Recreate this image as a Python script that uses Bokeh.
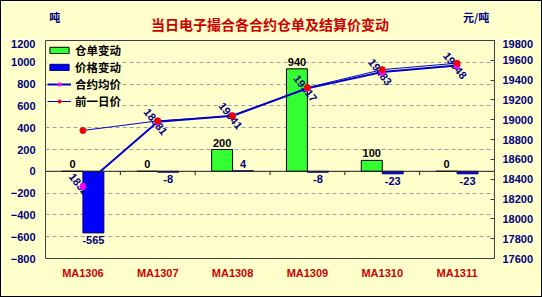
from bokeh.plotting import figure
from bokeh.layouts import column
from bokeh.models import (Range1d, LinearAxis, FixedTicker, Span, Legend,
                          LegendItem, ColumnDataSource)
from bokeh.transform import dodge
from bokeh.core.properties import value
from bokeh.embed import file_html
from bokeh.resources import INLINE

# ---- data ----
cats = ["MA1306", "MA1307", "MA1308", "MA1309", "MA1310", "MA1311"]
receipt_change = [0, 0, 200, 940, 100, 0]          # 仓单变动 (吨)
price_change = [-565, -8, 4, -8, -23, -23]         # 价格变动
avg_price = [18327, 18981, 19041, 19317, 19483, 19548]   # 合约均价
prev_price = [18892, 18989, 19037, 19325, 19506, 19571]  # 前一日价
left_ticks = [-800, -600, -400, -200, 0, 200, 400, 600, 800, 1000, 1200]
right_ticks = [17600, 17800, 18000, 18200, 18400, 18600, 18800, 19000,
               19200, 19400, 19600, 19800]
title_text = "当日电子撮合各合约仓单及结算价变动"
left_unit = "吨"
right_unit = "元/吨"

BG = "#FFFFCC"
NAVY = "#000080"
RED = "#CC0000"
CJK = "Noto Sans CJK SC"
W = 540
H = 295
HDR_H = 38

n = len(cats)
centers = [i + 0.5 for i in range(n)]

src = ColumnDataSource(dict(
    x=centers, cat=cats, rc=receipt_change, pc=price_change,
    avg=avg_price, prev=prev_price,
    rc_txt=[str(v) for v in receipt_change],
    pc_txt=[str(v) for v in price_change],
    avg_txt=[str(v) for v in avg_price],
    pc_base=["bottom" if v >= 0 else "top" for v in price_change],
    pc_off=[-3 if v >= 0 else 3 for v in price_change],
))

# ---- header strip: title and unit labels (pixel coordinate space) ----
hdr = figure(width=W, height=HDR_H, x_range=Range1d(0, W), y_range=Range1d(HDR_H, 0),
             output_backend="svg", toolbar_location=None,
             x_axis_location=None, y_axis_location=None,
             min_border=0, background_fill_color=BG, border_fill_color=BG)
hdr.outline_line_color = None
hdr.xgrid.visible = False
hdr.ygrid.visible = False
hdr.text(x=[W / 2], y=[22], text=[title_text], text_align="center",
         text_baseline="middle", text_color=RED, text_font=value(CJK),
         text_font_size="14px", text_font_style="bold")
hdr.text(x=[11, 518], y=[15, 15], text=[left_unit, right_unit], text_align="center",
         text_baseline="middle", text_color=NAVY, text_font=value(CJK),
         text_font_size="11px", text_font_style="bold")

# ---- main chart ----
p = figure(width=W, height=H - HDR_H, x_range=Range1d(0, n),
           y_range=Range1d(left_ticks[0], left_ticks[-1]),
           output_backend="svg", toolbar_location=None,
           x_axis_location=None, y_axis_location=None,
           min_border_left=44, min_border_right=47, min_border_top=1,
           min_border_bottom=38,
           background_fill_color=BG, border_fill_color=BG)
p.outline_line_color = "#404040"
p.outline_line_width = 1
p.extra_y_ranges = {"right": Range1d(right_ticks[0], right_ticks[-1])}

# axes
ly = LinearAxis(ticker=FixedTicker(ticks=left_ticks))
ly.axis_line_color = None
ly.major_tick_line_color = None
ly.major_tick_out = 0
ly.major_tick_in = 0
ly.minor_tick_line_color = None
ly.major_label_standoff = 10
p.add_layout(ly, "left")

ry = LinearAxis(y_range_name="right", ticker=FixedTicker(ticks=right_ticks))
ry.axis_line_color = None
ry.major_tick_in = 4
ry.major_tick_out = 0
ry.major_tick_line_color = "#404040"
ry.minor_tick_line_color = None
ry.major_label_standoff = 8
p.add_layout(ry, "right")

bx = LinearAxis(ticker=FixedTicker(ticks=centers),
                major_label_overrides={c: s for c, s in zip(centers, cats)})
bx.axis_line_color = None
bx.major_tick_line_color = None
bx.major_tick_out = 0
bx.major_tick_in = 0
bx.minor_tick_line_color = None
bx.major_label_standoff = 8
p.add_layout(bx, "below")

for ax in (ly, ry):
    ax.major_label_text_color = NAVY
    ax.major_label_text_font_style = "bold"
    ax.major_label_text_font_size = "11px"
    ax.major_label_text_font = "Liberation Sans"
bx.major_label_text_color = RED
bx.major_label_text_font_style = "bold"
bx.major_label_text_font_size = "11px"
bx.major_label_text_font = "Liberation Sans"

# grid
p.xgrid.visible = False
p.ygrid.ticker = FixedTicker(ticks=left_ticks)
p.ygrid.grid_line_color = "#A0A0A0"
p.ygrid.grid_line_dash = "4 3"
p.add_layout(Span(location=0, dimension="width", line_color="#202020", line_width=1))

# zero-line ticks at category boundaries
bounds = list(range(1, n))
p.segment(x0=bounds, y0=[0] * len(bounds), x1=bounds, y1=[-35] * len(bounds),
          line_color="#202020", line_width=1)

# bars
g = p.vbar(x=dodge("x", -0.14), top="rc", bottom=0, width=0.28, source=src,
           fill_color="#33FF33", line_color="#000000", line_width=1)

# line labels (under blue bars)
p.text(x="x", y="avg", text="avg_txt", source=src, y_range_name="right",
       angle=-0.9, text_align="center", text_baseline="middle", x_offset=-2,
       text_color=NAVY, text_font=value("Liberation Sans"),
       text_font_size="11px", text_font_style="bold")

b = p.vbar(x=dodge("x", 0.14), top="pc", bottom=0, width=0.28, source=src,
           fill_color="#0000FF", line_color="#000060", line_width=1)

# lines
l_prev = p.line(x="x", y="prev", source=src, y_range_name="right",
                line_color="#0000CC", line_width=1)
l_avg = p.line(x="x", y="avg", source=src, y_range_name="right",
               line_color="#0000CC", line_width=2)
m_avg = p.scatter(x="x", y="avg", source=src, y_range_name="right", size=6,
                  marker="circle", fill_color="#FF00FF", line_color="#FF00FF")
m_prev = p.scatter(x="x", y="prev", source=src, y_range_name="right", size=6,
                   marker="circle", fill_color="#EE0000", line_color="#EE0000")

# value labels
p.text(x=dodge("x", -0.14), y="rc", text="rc_txt", source=src,
       text_align="center", text_baseline="bottom", y_offset=-3,
       text_color="#000000", text_font=value("Liberation Sans"),
       text_font_size="11px", text_font_style="bold")
p.text(x=dodge("x", 0.14), y="pc", text="pc_txt", source=src,
       text_align="center", text_baseline="pc_base", y_offset="pc_off",
       text_color=NAVY, text_font=value("Liberation Sans"),
       text_font_size="11px", text_font_style="bold")

# legend
legend = Legend(items=[
    LegendItem(label="仓单变动", renderers=[g]),
    LegendItem(label="价格变动", renderers=[b]),
    LegendItem(label="合约均价", renderers=[l_avg, m_avg]),
    LegendItem(label="前一日价", renderers=[l_prev, m_prev]),
], location="top_left")
legend.background_fill_color = BG
legend.background_fill_alpha = 1
legend.border_line_color = None
legend.label_text_font = CJK
legend.label_text_font_size = "11.5px"
legend.label_text_font_style = "bold"
legend.label_text_color = "#000000"
legend.glyph_width = 24
legend.glyph_height = 8
legend.label_height = 14
legend.spacing = 1
legend.padding = 2
legend.margin = 2
legend.label_standoff = 4
p.add_layout(legend)

layout = column(hdr, p, spacing=0, width=W + 2, height=H + 2, sizing_mode="fixed",
                styles={"border": "1px solid black"})

open("out.html", "w").write(file_html(layout, INLINE))
